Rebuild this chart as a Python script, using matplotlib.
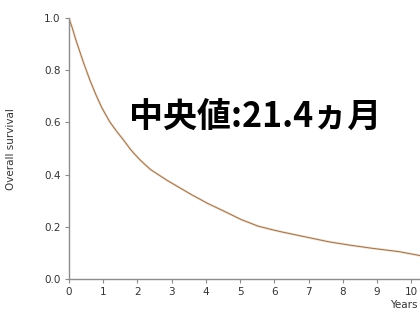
import matplotlib
matplotlib.use("Agg")
import matplotlib.pyplot as plt

# Kaplan-Meier overall survival, read at points along the curve
years = [0, 0.1, 0.2, 0.42, 0.62, 0.79, 0.96, 1.19, 1.40, 1.6, 1.78, 1.89,
         2.09, 2.38, 2.87, 3.26, 3.6, 4.05, 4.5, 5.03, 5.52, 5.91, 6.2, 6.89,
         7.58, 8.2, 8.85, 9.64, 10.25]
survival = [1.0, 0.962, 0.918, 0.832, 0.76, 0.706, 0.657, 0.603, 0.565, 0.532,
            0.50, 0.483, 0.455, 0.42, 0.378, 0.348, 0.322, 0.29, 0.262, 0.228,
            0.203, 0.19, 0.181, 0.162, 0.143, 0.13, 0.118, 0.105, 0.09]
x_ticks = list(range(0, 11))
y_ticks = [0.0, 0.2, 0.4, 0.6, 0.8, 1.0]
median_text = "中央値:21.4ヵ月"

fig = plt.figure(figsize=(4.2, 3.23), dpi=100)
ax = fig.add_axes([0.164, 0.136, 0.836, 0.808])

ax.plot(years, survival, color="#f0c08a", lw=1.8, alpha=0.5)
ax.plot(years, survival, color="#8f735f", lw=0.7)

ax.set_xlim(0, 10.25)
ax.set_ylim(0, 1.0)
ax.set_xticks(x_ticks)
ax.set_yticks(y_ticks)
ax.set_yticklabels([f"{v:.1f}" for v in y_ticks])

for side in ("top", "right"):
    ax.spines[side].set_visible(False)
for side in ("left", "bottom"):
    ax.spines[side].set_color("#8c8c8c")
    ax.spines[side].set_linewidth(1.0)
ax.tick_params(colors="#8c8c8c", labelcolor="#333333", labelsize=7.5,
               length=3, width=0.8, pad=3)

fig.text(0.027, 0.54, "Overall survival", rotation=90, ha="center", va="center",
         fontsize=7.5, color="#333333")
fig.text(0.995, 0.055, "Years", ha="right", va="center", fontsize=7.5,
         color="#333333")

ax.text(0.53, 0.622, median_text, transform=ax.transAxes, ha="center",
        va="center", fontsize=24.5, fontweight="bold", color="black",
        family=["Noto Sans CJK JP", "DejaVu Sans"])

fig.savefig("out.png", dpi=100)
